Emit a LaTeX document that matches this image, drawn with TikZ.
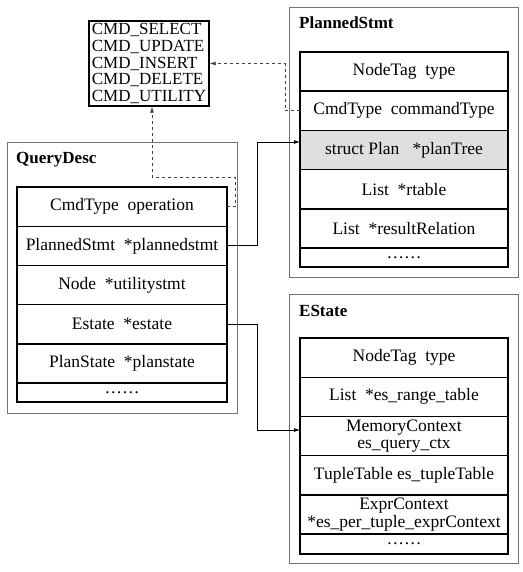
\documentclass[tikz,border=0pt]{standalone}
\usepackage{fontspec}
\setmainfont{Liberation Serif}
\usetikzlibrary{arrows.meta}

\begin{document}
\begin{tikzpicture}[x=1pt,y=-1pt,
  frame/.style={draw=black!55,line width=0.8pt},
  field/.style={draw,line width=1.4pt,minimum width=210pt,minimum height=39.2pt,inner sep=0pt,outer sep=0pt,align=center,font=\fontsize{17.5}{17.5}\selectfont},
  dotsrow/.style={field,minimum height=19pt},
  title/.style={anchor=west,inner sep=0pt,font=\fontsize{17}{17}\selectfont\bfseries},
  cmdbox/.style={draw,line width=1.4pt,minimum width=120pt,minimum height=85pt,inner sep=0pt,align=left,font=\fontsize{17}{16.6}\selectfont},
  link/.style={-{Latex[length=6pt,width=4pt]},line width=0.7pt},
  dashlink/.style={link,dash pattern=on 3pt off 3pt,draw=black!75}]
\useasboundingbox (0,0) rectangle (522,572);
\draw[frame] (7,142) rectangle (237,413);
\draw[frame] (289,7) rectangle (518,277);
\draw[frame] (289,294) rectangle (518,563);
\node[cmdbox] (cmd) at (149,63.5) {CMD\_SELECT\\CMD\_UPDATE\\CMD\_INSERT\\CMD\_DELETE\\CMD\_UTILITY};
\node[title] (qdt) at (16,160) {QueryDesc};
\node[field] (qd1) at (122,206.6) {CmdType~~operation};
\node[field] (qd2) at (122,245.8) {PlannedStmt~~*plannedstmt};
\node[field] (qd3) at (122,285) {Node~~*utilitystmt};
\node[field] (qd4) at (122,324.2) {Estate~~*estate};
\node[field] (qd5) at (122,363.4) {PlanState~~*planstate};
\node[dotsrow] (qd6) at (122,392.5) {……};
\node[title] (pst) at (299,23) {PlannedStmt};
\node[field,minimum width=208pt] (ps1) at (404,71.6) {NodeTag~~type};
\node[field,minimum width=208pt] (ps2) at (404,110.8) {CmdType~~commandType};
\node[field,minimum width=208pt,fill=gray!25] (ps3) at (404,150) {struct Plan~~~*planTree};
\node[field,minimum width=208pt] (ps4) at (404,189.2) {List~~*rtable};
\node[field,minimum width=208pt] (ps5) at (404,228.4) {List~~*resultRelation};
\node[dotsrow,minimum width=208pt] (ps6) at (404,257.5) {……};
\node[title] (est) at (299,311) {EState};
\node[field,minimum width=208pt] (es1) at (404,357.6) {NodeTag~~type};
\node[field,minimum width=208pt] (es2) at (404,396.8) {List~~*es\_range\_table};
\node[field,minimum width=208pt] (es3) at (404,436) {MemoryContext\\es\_query\_ctx};
\node[field,minimum width=208pt] (es4) at (404,475.2) {TupleTable es\_tupleTable};
\node[field,minimum width=208pt] (es5) at (404,514.4) {ExprContext\\*es\_per\_tuple\_exprContext};
\node[dotsrow,minimum width=208pt,minimum height=20pt] (es6) at (404,544) {……};
\draw[dashlink] (ps2.west) -- ++(-15,0) |- (cmd.east);
\draw[dashlink] (qd1.east) -- ++(8,0) -- ++(0,-29.6) -| ([xshift=3pt]cmd.south);
\draw[link] (qd2.east) -- ++(30,0) |- ([yshift=8pt]ps3.west);
\draw[link] (qd4.east) -- ++(30,0) |- ([yshift=6pt]es3.west);
\end{tikzpicture}
\end{document}
